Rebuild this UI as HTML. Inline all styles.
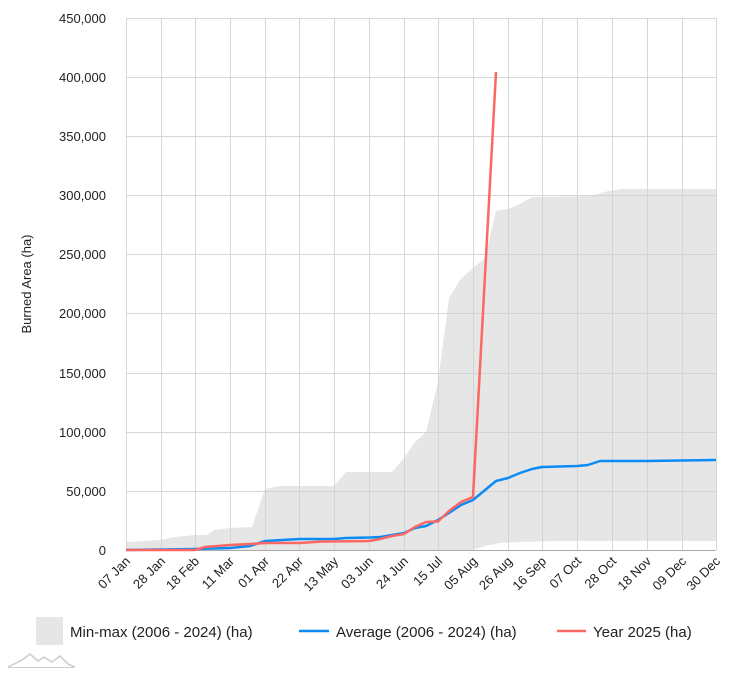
<!DOCTYPE html>
<html><head><meta charset="utf-8"><style>
body{margin:0;background:#fff;}
svg{display:block;font-family:"Liberation Sans",Roboto,sans-serif;}
</style></head><body>
<svg width="741" height="675" viewBox="0 0 741 675">
<polygon fill="#e6e6e6" points="126,542 145,541 160,540 175,537 195,535 207,535 214,530 230,528 252,527 265,489 280,486 300,486 334,486 346,472 392,472 404,458 415,442 426,432 438,382 449,298 460,280 473,268 485,258 496,211 508,209 520,204 532,197 542,197 592,196 608,191 622,189 716,189 716,541 560,541 520,542 500,543 485,546 473,550 126,550"/>
<g stroke="#d0d0d0" stroke-opacity="0.85" stroke-width="1">
<line x1="126" y1="18.5" x2="716" y2="18.5"/><line x1="126" y1="77.5" x2="716" y2="77.5"/><line x1="126" y1="136.5" x2="716" y2="136.5"/><line x1="126" y1="195.5" x2="716" y2="195.5"/><line x1="126" y1="254.5" x2="716" y2="254.5"/><line x1="126" y1="313.5" x2="716" y2="313.5"/><line x1="126" y1="373.5" x2="716" y2="373.5"/><line x1="126" y1="432.5" x2="716" y2="432.5"/><line x1="126" y1="491.5" x2="716" y2="491.5"/>
<line x1="126.5" y1="18" x2="126.5" y2="550"/><line x1="161.5" y1="18" x2="161.5" y2="550"/><line x1="195.5" y1="18" x2="195.5" y2="550"/><line x1="230.5" y1="18" x2="230.5" y2="550"/><line x1="265.5" y1="18" x2="265.5" y2="550"/><line x1="299.5" y1="18" x2="299.5" y2="550"/><line x1="334.5" y1="18" x2="334.5" y2="550"/><line x1="369.5" y1="18" x2="369.5" y2="550"/><line x1="404.5" y1="18" x2="404.5" y2="550"/><line x1="438.5" y1="18" x2="438.5" y2="550"/><line x1="473.5" y1="18" x2="473.5" y2="550"/><line x1="508.5" y1="18" x2="508.5" y2="550"/><line x1="542.5" y1="18" x2="542.5" y2="550"/><line x1="577.5" y1="18" x2="577.5" y2="550"/><line x1="612.5" y1="18" x2="612.5" y2="550"/><line x1="647.5" y1="18" x2="647.5" y2="550"/><line x1="682.5" y1="18" x2="682.5" y2="550"/><line x1="716.5" y1="18" x2="716.5" y2="550"/>
</g>
<line x1="126" y1="550.5" x2="716" y2="550.5" stroke="#aaa"/>
<polyline fill="none" stroke="#0b8cf5" stroke-width="2.5" stroke-linejoin="round" points="126,550 195,549 230,548 250,546 265,541 300,539 334,539 346,538 370,537.5 380,537 392,535 404,533 415,528 426,526 438,520 449,513 461,505 473,500 496,481 508,478 520,473 532,469 542,467 577,466 588,465 600,461 647,461 716,460"/>
<polyline fill="none" stroke="#fb6864" stroke-width="2.5" stroke-linejoin="round" points="126,550 195,550 205,547 230,545 250,544 265,543 300,543 320,541.6 369,541 380,539 392,536 404,534 415,527 426,522 438,521.5 449,511 461,502 473,497 496,72"/>
<g font-size="13" fill="#222" text-anchor="end">
<text x="106" y="23">450,000</text><text x="106" y="82">400,000</text><text x="106" y="141">350,000</text><text x="106" y="200">300,000</text><text x="106" y="259">250,000</text><text x="106" y="318">200,000</text><text x="106" y="378">150,000</text><text x="106" y="437">100,000</text><text x="106" y="496">50,000</text><text x="106" y="555">0</text>
</g>
<text transform="translate(31,284) rotate(-90)" font-size="13" fill="#222" text-anchor="middle">Burned Area (ha)</text>
<g font-size="13" fill="#222" text-anchor="end">
<text transform="translate(131,562) rotate(-45)">07 Jan</text>
<text transform="translate(166,562) rotate(-45)">28 Jan</text>
<text transform="translate(200,562) rotate(-45)">18 Feb</text>
<text transform="translate(235,562) rotate(-45)">11 Mar</text>
<text transform="translate(270,562) rotate(-45)">01 Apr</text>
<text transform="translate(304,562) rotate(-45)">22 Apr</text>
<text transform="translate(339,562) rotate(-45)">13 May</text>
<text transform="translate(374,562) rotate(-45)">03 Jun</text>
<text transform="translate(409,562) rotate(-45)">24 Jun</text>
<text transform="translate(443,562) rotate(-45)">15 Jul</text>
<text transform="translate(478,562) rotate(-45)">05 Aug</text>
<text transform="translate(513,562) rotate(-45)">26 Aug</text>
<text transform="translate(547,562) rotate(-45)">16 Sep</text>
<text transform="translate(582,562) rotate(-45)">07 Oct</text>
<text transform="translate(617,562) rotate(-45)">28 Oct</text>
<text transform="translate(652,562) rotate(-45)">18 Nov</text>
<text transform="translate(687,562) rotate(-45)">09 Dec</text>
<text transform="translate(721,562) rotate(-45)">30 Dec</text>
</g>
<rect x="36" y="617" width="27" height="28" fill="#e6e6e6"/>
<g font-size="15" fill="#222">
<text x="70" y="637">Min-max (2006 - 2024) (ha)</text>
<text x="336" y="637">Average (2006 - 2024) (ha)</text>
<text x="593" y="637">Year 2025 (ha)</text>
</g>
<line x1="299" y1="631" x2="329" y2="631" stroke="#0b8cf5" stroke-width="2.5"/>
<line x1="557" y1="631" x2="586" y2="631" stroke="#fb6864" stroke-width="2.5"/>
<path d="M8,667 L22,660 L30,654 L38,661 L44,657 L52,662 L60,656 L68,664 L75,667" fill="none" stroke="#ccc" stroke-width="1.5"/>
<line x1="8" y1="667.5" x2="75" y2="667.5" stroke="#ccc"/>
</svg>
</body></html>
